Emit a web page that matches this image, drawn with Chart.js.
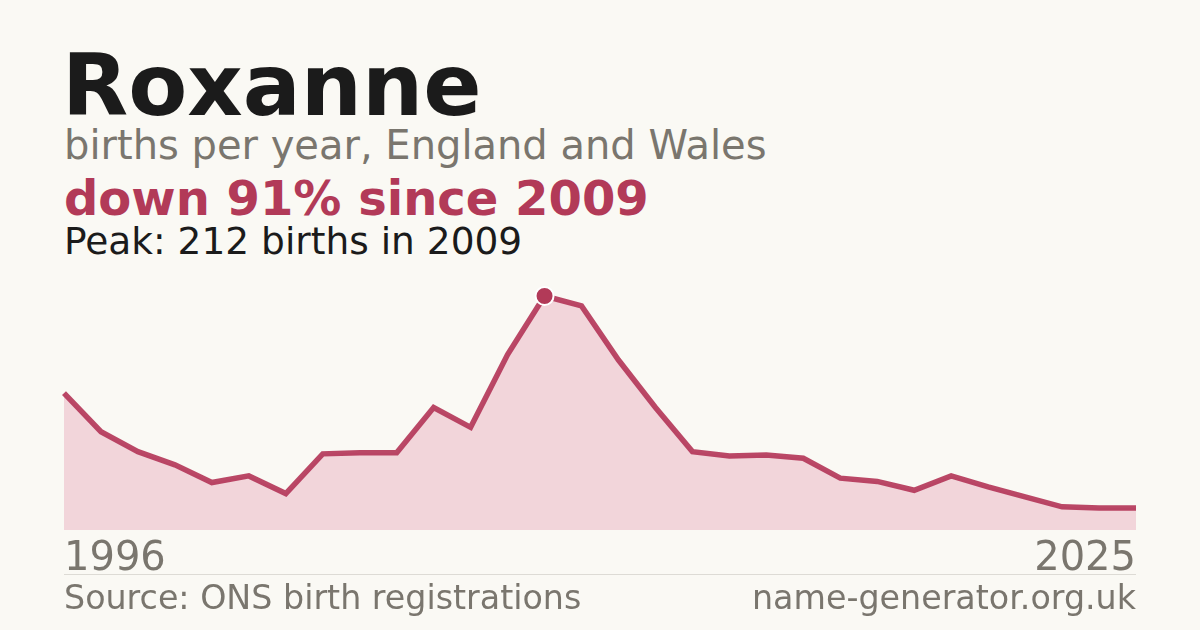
<!DOCTYPE html>
<html>
<head>
<meta charset="utf-8">
<script src="https://cdn.jsdelivr.net/npm/chart.js@4/dist/chart.umd.min.js"></script>
<style>
  html, body { margin: 0; padding: 0; }
  body { width: 1200px; height: 630px; background: #faf9f4; position: relative; overflow: hidden; font-family: "DejaVu Sans", sans-serif; }
  .t { position: absolute; white-space: nowrap; line-height: 1; }
  #title { left: 62px; top: 42px; font-size: 86px; font-weight: bold; color: #1b1b1b; }
  #sub { left: 64px; top: 125px; font-size: 40px; color: #7a766e; }
  #down { left: 64px; top: 174px; font-size: 48px; font-weight: bold; color: #b23a58; }
  #peak { left: 64px; top: 223px; font-size: 37.5px; color: #1b1b1b; }
  #y0 { left: 64px; top: 536px; font-size: 40px; color: #7a766e; }
  #y1 { right: 64px; top: 536px; font-size: 40px; color: #7a766e; }
  #src { left: 64px; top: 581px; font-size: 33.3px; color: #7a766e; }
  #site { right: 64px; top: 581px; font-size: 33.3px; color: #7a766e; }
  #sep { position: absolute; left: 64px; width: 1072px; top: 574px; height: 1px; background: #dddbd5; }
  #wrap { position: absolute; left: 54px; top: 270px; width: 1092px; height: 270px; }
</style>
</head>
<body>
<div class="t" id="title">Roxanne</div>
<div class="t" id="sub">births per year, England and Wales</div>
<div class="t" id="down">down 91% since 2009</div>
<div class="t" id="peak">Peak: 212 births in 2009</div>
<div id="wrap"><canvas id="c" width="1092" height="270"></canvas></div>
<div class="t" id="y0">1996</div>
<div class="t" id="y1">2025</div>
<div id="sep"></div>
<div class="t" id="src">Source: ONS birth registrations</div>
<div class="t" id="site">name-generator.org.uk</div>
<script>
const years = [1996,1997,1998,1999,2000,2001,2002,2003,2004,2005,2006,2007,2008,2009,2010,2011,2012,2013,2014,2015,2016,2017,2018,2019,2020,2021,2022,2023,2024,2025];
const births = [124,89,71,59,43,49,33,69,70,70,111,93,159,212,203,154,111,71,67,68,65,47,44,36,49,39,30,21,20,20];
const yMax = 226.5;

const peakIdx = births.indexOf(Math.max(...births));
const radii = births.map((v, i) => i === peakIdx ? 9 : 0);

new Chart(document.getElementById('c'), {
  type: 'line',
  data: {
    labels: years.map(String),
    datasets: [{
      data: births,
      borderColor: 'rgba(178,52,86,0.9)',
      borderWidth: 5.5,
      backgroundColor: '#f2d5da',
      fill: 'origin',
      tension: 0,
      pointRadius: radii,
      pointHoverRadius: radii,
      pointBackgroundColor: '#b23a58',
      pointBorderColor: '#ffffff',
      pointBorderWidth: 2,
      clip: false
    }]
  },
  options: {
    responsive: false,
    animation: false,
    devicePixelRatio: 1,
    layout: { padding: { left: 10, right: 10, top: 10, bottom: 10 } },
    plugins: { legend: { display: false }, tooltip: { enabled: false } },
    scales: {
      x: { display: false, offset: false },
      y: { display: false, min: 0, max: yMax }
    }
  }
});
</script>
</body>
</html>
